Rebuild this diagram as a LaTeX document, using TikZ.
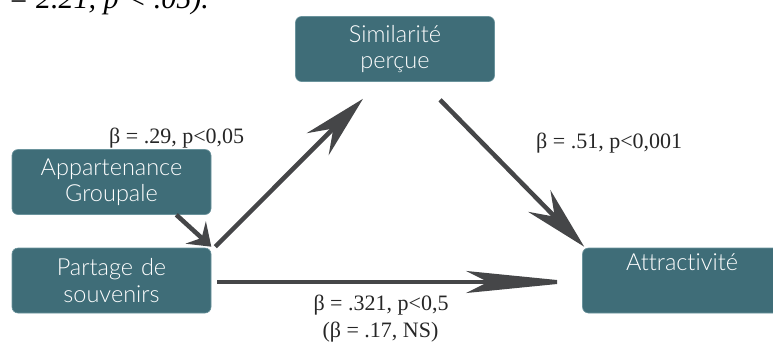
\documentclass[tikz,border=0pt]{standalone}
\usepackage{fontspec}
\setmainfont{Liberation Serif}
\newfontfamily\boxfont{Lato}[UprightFont={* Light},Ligatures=NoCommon]
\usetikzlibrary{arrows.meta}
\definecolor{boxteal}{HTML}{3F6D78}
\definecolor{boxedge}{HTML}{6A939C}
\definecolor{linegray}{HTML}{454648}
\begin{document}
\begin{tikzpicture}[x=1pt,y=-1pt,
  box/.style={rectangle, rounded corners=6pt, fill=boxteal, draw=boxedge, line width=0.6pt,
    minimum width=199pt, minimum height=65pt, text width=193pt, align=center, inner sep=0pt,
    font=\boxfont\fontsize{23.5}{26.5}\selectfont, text=white},
  lab/.style={inner sep=0pt, font=\fontsize{22}{26}\selectfont, text=black!85},
  conn/.style={draw=linegray, line width=4.5pt}]
\useasboundingbox (0,0) rectangle (773,341);
\clip (0,0) rectangle (773,341);
\node[anchor=base east, inner sep=0pt, font=\fontsize{30}{34}\selectfont\itshape] (top) at (209,8) {z = 2.21, p < .05).};
\node[box] (app) at (111.5,182) {Appartenance\\Groupale};
\node[box] (part) at (111.5,280.5) {Partage de\\souvenirs};
\node[box] (sim) at (395,49) {Similarité\\perçue};
\node[box] (attr) at (682,280.5) {Attractivité\\\rule[-10pt]{0pt}{10pt}};
\node[lab, anchor=base west] (l1) at (109,143) {β = .29, p<0,05};
\node[lab, anchor=base west] (l2) at (536,148) {β = .51, p<0,001};
\node[lab, anchor=base] (l3) at (381,310) {β = .321, p<0,5};
\node[lab, anchor=base] (l4) at (380.5,337) {(β = .17, NS)};
\draw[conn, -{Stealth[length=21pt,width=30pt,inset=8pt]}] ([xshift=-35pt]app.south east) -- ([yshift=1pt]part.north east);
\draw[conn, -{Stealth[length=64pt,width=31pt,inset=22pt]}] ([xshift=4pt,yshift=1pt]part.north east) -- ([xshift=-32pt,yshift=-17pt]sim.south);
\draw[conn, -{Stealth[length=64pt,width=31pt,inset=22pt]}] ([xshift=45pt,yshift=-18pt]sim.south) -- ([xshift=2pt,yshift=1pt]attr.north west);
\draw[conn, line width=4pt, -{Stealth[length=111pt,width=22pt,inset=22pt]}] ([xshift=6pt,yshift=-1.5pt]part.east) -- ([xshift=-5pt,yshift=-1.5pt]attr.west);
\end{tikzpicture}
\end{document}
